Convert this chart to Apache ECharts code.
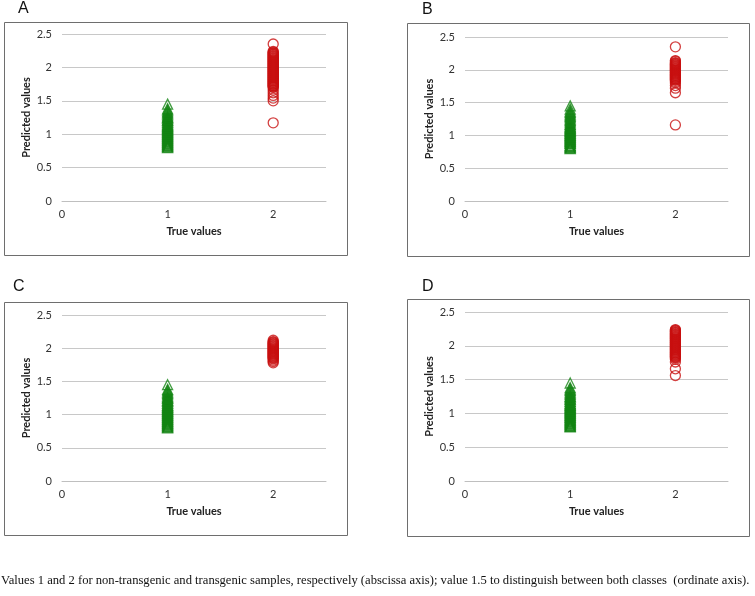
<!DOCTYPE html>
<html><head><meta charset="utf-8">
<script src="https://cdn.jsdelivr.net/npm/echarts@6/dist/echarts.min.js"></script>
<style>html,body{margin:0;padding:0;background:#fff}#c{width:755px;height:596px}</style>
</head><body><div id="c"></div>
<script>
// Tick labels
var xTicks = [0, 1, 2];
var yTicks = [0, 0.5, 1, 1.5, 2, 2.5];
var panelLabels = ['A', 'B', 'C', 'D'];
// Class 1 (non-transgenic) predicted values – green triangles
var greenA = [0.80,0.81,0.82,0.83,0.84,0.85,0.86,0.87,0.88,0.89,0.90,0.91,0.92,0.93,0.94,0.95,0.96,0.97,0.98,0.99,1.00,1.01,1.02,1.03,1.04,1.05,1.06,1.07,1.08,1.09,1.10,1.11,1.12,1.13,1.14,1.15,1.17,1.18,1.20,1.21,1.22,1.24,1.25,1.26,1.28,1.30,1.32,1.34,1.36,1.38,1.45];
var greenB = [0.80,0.81,0.82,0.83,0.84,0.85,0.87,0.88,0.89,0.90,0.91,0.92,0.93,0.94,0.95,0.96,0.97,0.98,0.99,1.00,1.01,1.02,1.03,1.04,1.05,1.06,1.07,1.08,1.09,1.10,1.11,1.12,1.13,1.14,1.16,1.17,1.19,1.21,1.23,1.25,1.27,1.29,1.31,1.33,1.35,1.37,1.40,1.45];
var greenC = [0.80,0.81,0.82,0.83,0.84,0.85,0.86,0.87,0.88,0.89,0.90,0.91,0.92,0.93,0.94,0.95,0.96,0.97,0.98,0.99,1.00,1.01,1.02,1.03,1.04,1.05,1.06,1.07,1.08,1.09,1.10,1.11,1.12,1.13,1.14,1.15,1.17,1.18,1.20,1.21,1.22,1.24,1.25,1.26,1.28,1.30,1.32,1.34,1.36,1.38,1.45];
var greenD = [0.80,0.81,0.82,0.83,0.84,0.85,0.86,0.87,0.88,0.89,0.90,0.91,0.92,0.93,0.94,0.95,0.96,0.97,0.98,0.99,1.00,1.01,1.02,1.03,1.04,1.05,1.06,1.07,1.08,1.09,1.10,1.11,1.12,1.13,1.14,1.15,1.17,1.18,1.20,1.21,1.22,1.24,1.25,1.26,1.28,1.30,1.32,1.34,1.36,1.38,1.45];
// Class 2 (transgenic) predicted values – red circles
var redA = [1.17,1.50,1.54,1.58,1.62,1.66,1.70,1.71,1.72,1.73,1.74,1.75,1.76,1.77,1.78,1.79,1.80,1.81,1.82,1.83,1.84,1.85,1.86,1.87,1.88,1.89,1.90,1.91,1.92,1.93,1.94,1.95,1.96,1.97,1.98,1.99,2.00,2.01,2.02,2.03,2.04,2.05,2.06,2.07,2.08,2.09,2.10,2.11,2.12,2.13,2.14,2.15,2.16,2.17,2.18,2.19,2.20,2.21,2.22,2.23,2.24,2.35];
var redB = [1.16,1.65,1.72,1.76,1.80,1.82,1.84,1.85,1.86,1.87,1.88,1.89,1.90,1.91,1.92,1.93,1.94,1.95,1.96,1.97,1.98,1.99,2.00,2.01,2.02,2.03,2.04,2.05,2.06,2.07,2.08,2.09,2.10,2.11,2.13,2.14,2.35];
var redC = [1.78,1.80,1.82,1.84,1.85,1.86,1.87,1.88,1.89,1.90,1.91,1.92,1.93,1.94,1.95,1.96,1.97,1.98,1.99,2.00,2.01,2.02,2.03,2.04,2.05,2.06,2.07,2.08,2.09,2.10,2.12];
var redD = [1.56,1.66,1.76,1.80,1.82,1.83,1.84,1.85,1.86,1.87,1.88,1.89,1.90,1.91,1.92,1.93,1.94,1.95,1.96,1.97,1.98,1.99,2.00,2.01,2.02,2.03,2.04,2.05,2.06,2.07,2.08,2.09,2.10,2.11,2.12,2.13,2.14,2.15,2.16,2.17,2.18,2.19,2.20,2.21,2.22,2.23,2.24];
var caption = 'Values 1 and 2 for non-transgenic and transgenic samples, respectively (abscissa axis); value 1.5 to distinguish between both classes  (ordinate axis).';

var greens = [greenA, greenB, greenC, greenD];
var reds = [redA, redB, redC, redD];
var grids = [
  {left: 62, top: 34, width: 264, height: 167},
  {left: 465, top: 37, width: 263, height: 164},
  {left: 62, top: 315, width: 264, height: 166},
  {left: 465, top: 312, width: 263, height: 169}
];
var boxes = [
  {x: 4, y: 22, w: 343, h: 233},
  {x: 407, y: 23, w: 342, h: 233},
  {x: 4, y: 302, w: 343, h: 233},
  {x: 407, y: 299, w: 342, h: 237}
];
var letterPos = [[18, 1], [422, 2], [13, 279], [422, 279]];

var font = 'Lato, "Open Sans", sans-serif';
var xAxes = [], yAxes = [], series = [], graphics = [];
for (var i = 0; i < 4; i++) {
  xAxes.push({
    type: 'value', gridIndex: i, min: 0, max: 2.5, interval: 1,
    name: 'True values', nameLocation: 'middle', nameGap: 25,
    nameTextStyle: {fontFamily: font, fontWeight: 'bold', fontSize: 11, color: '#222'},
    axisLine: {show: true, lineStyle: {color: '#bfbfbf', width: 1}},
    axisTick: {show: false}, splitLine: {show: false},
    axisLabel: {fontFamily: font, fontSize: 11, color: '#333', margin: 8,
      formatter: function (v) { return xTicks.indexOf(v) >= 0 ? String(v) : ''; }}
  });
  yAxes.push({
    type: 'value', gridIndex: i, min: 0, max: 2.5, interval: 0.5,
    name: 'Predicted values', nameLocation: 'middle', nameGap: 30,
    nameTextStyle: {fontFamily: font, fontWeight: 'bold', fontSize: 11, color: '#222'},
    axisLine: {show: false}, axisTick: {show: false},
    splitLine: {show: true, lineStyle: {color: '#c8c8c8', width: 1}},
    axisLabel: {fontFamily: font, fontSize: 11, color: '#333', margin: 10,
      formatter: function (v) { return yTicks.indexOf(v) >= 0 ? String(v) : ''; }}
  });
  series.push({
    type: 'scatter', xAxisIndex: i, yAxisIndex: i, symbol: 'triangle', symbolSize: 10,
    itemStyle: {color: 'rgba(0,0,0,0)', borderColor: '#138513', borderWidth: 1.3},
    emphasis: {disabled: true},
    data: greens[i].map(function (v) { return [1, v]; })
  });
  series.push({
    type: 'scatter', xAxisIndex: i, yAxisIndex: i, symbol: 'circle', symbolSize: 10,
    itemStyle: {color: 'rgba(0,0,0,0)', borderColor: '#c81010', borderWidth: 1.3},
    emphasis: {disabled: true},
    data: reds[i].map(function (v) { return [2, v]; })
  });
  graphics.push({
    type: 'rect', silent: true, z: -1,
    shape: {x: boxes[i].x + 0.5, y: boxes[i].y + 0.5, width: boxes[i].w, height: boxes[i].h},
    style: {fill: 'none', stroke: '#6e6e6e', lineWidth: 1}
  });
  graphics.push({
    type: 'text', left: letterPos[i][0], top: letterPos[i][1], silent: true,
    style: {text: panelLabels[i], font: '16px "Liberation Sans", Arial, sans-serif', fill: '#111'}
  });
}
graphics.push({
  type: 'text', left: 1, top: 574, silent: true,
  style: {text: caption, font: '12.6px "Liberation Serif", "Times New Roman", serif', fill: '#111'}
});

var chart = echarts.init(document.getElementById('c'), null, {renderer: 'canvas'});
chart.setOption({
  animation: false,
  backgroundColor: '#fff',
  grid: grids,
  xAxis: xAxes,
  yAxis: yAxes,
  series: series,
  graphic: graphics
});
</script></body></html>
